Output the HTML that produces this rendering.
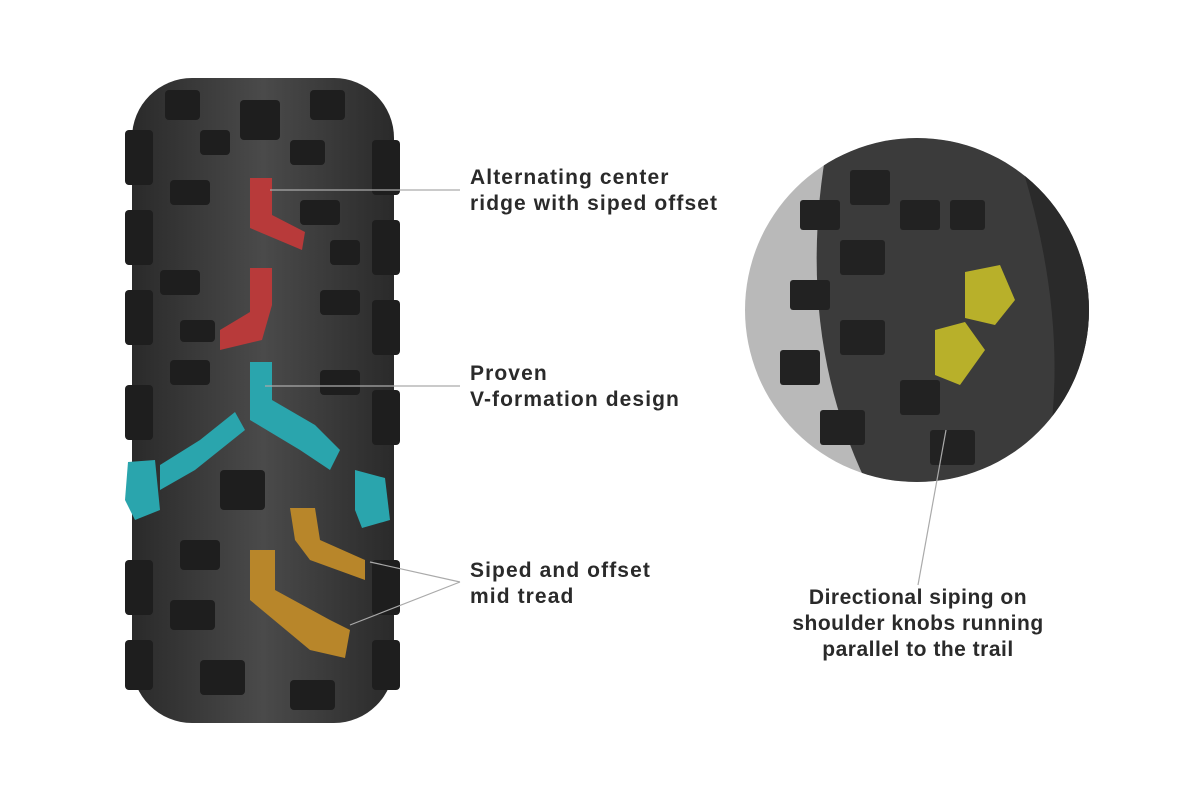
<!DOCTYPE html>
<html><head><meta charset="utf-8"><style>
html,body{margin:0;padding:0;background:#fff;}
body{width:1200px;height:800px;position:relative;overflow:hidden;font-family:"Liberation Sans",sans-serif;}
.t{position:absolute;font-size:21px;font-weight:bold;color:#2a2a2a;line-height:26px;letter-spacing:1.1px;}
</style></head><body>
<svg width="1200" height="800" style="position:absolute;left:0;top:0">
<defs>
<linearGradient id="tg" x1="0" x2="1">
<stop offset="0" stop-color="#2a2a2a"/><stop offset="0.5" stop-color="#4a4a4a"/><stop offset="1" stop-color="#2a2a2a"/>
</linearGradient>
<clipPath id="cc"><circle cx="917" cy="310" r="172"/></clipPath>
</defs>
<rect x="132" y="78" width="262" height="645" rx="60" fill="url(#tg)"/>
<g fill="#1e1e1e">
<rect x="125" y="130" width="28" height="55" rx="4"/><rect x="125" y="210" width="28" height="55" rx="4"/>
<rect x="125" y="290" width="28" height="55" rx="4"/><rect x="125" y="385" width="28" height="55" rx="4"/>
<rect x="125" y="560" width="28" height="55" rx="4"/><rect x="125" y="640" width="28" height="50" rx="4"/>
<rect x="372" y="140" width="28" height="55" rx="4"/><rect x="372" y="220" width="28" height="55" rx="4"/>
<rect x="372" y="300" width="28" height="55" rx="4"/><rect x="372" y="390" width="28" height="55" rx="4"/>
<rect x="372" y="560" width="28" height="55" rx="4"/><rect x="372" y="640" width="28" height="50" rx="4"/>
<rect x="165" y="90" width="35" height="30" rx="4"/><rect x="310" y="90" width="35" height="30" rx="4"/>
<rect x="170" y="180" width="40" height="25" rx="4"/><rect x="300" y="200" width="40" height="25" rx="4"/>
<rect x="160" y="270" width="40" height="25" rx="4"/><rect x="320" y="290" width="40" height="25" rx="4"/>
<rect x="170" y="360" width="40" height="25" rx="4"/><rect x="320" y="370" width="40" height="25" rx="4"/>
<rect x="220" y="470" width="45" height="40" rx="4"/><rect x="180" y="540" width="40" height="30" rx="4"/>
<rect x="170" y="600" width="45" height="30" rx="4"/><rect x="200" y="660" width="45" height="35" rx="4"/>
<rect x="290" y="680" width="45" height="30" rx="4"/><rect x="240" y="100" width="40" height="40" rx="4"/>
<rect x="200" y="130" width="30" height="25" rx="4"/><rect x="290" y="140" width="35" height="25" rx="4"/>
<rect x="330" y="240" width="30" height="25" rx="4"/><rect x="180" y="320" width="35" height="22" rx="4"/>
</g>
<g fill="#b83a3a">
<path d="M250 178 L272 178 L272 215 L305 232 L302 250 L250 228 Z"/>
<path d="M250 268 L272 268 L272 305 L262 340 L220 350 L220 330 L250 312 Z"/>
</g>
<g fill="#2aa5ad">
<path d="M250 362 L272 362 L272 400 L315 425 L340 450 L330 470 L300 450 L250 420 Z"/>
<path d="M235 412 L245 430 L220 450 L195 470 L160 490 L160 465 L200 440 Z"/>
<path d="M128 462 L155 460 L160 510 L135 520 L125 500 Z"/>
<path d="M355 470 L385 478 L390 520 L362 528 L355 510 Z"/>
</g>
<g fill="#b8862a">
<path d="M290 508 L315 508 L320 540 L365 560 L365 580 L310 560 L295 540 Z"/>
<path d="M250 550 L275 550 L275 590 L330 620 L350 630 L345 658 L310 650 L250 600 Z"/>
</g>
<g clip-path="url(#cc)">
<rect x="740" y="130" width="360" height="360" fill="#b9b9b9"/>
<path d="M830 130 L1100 130 L1100 490 L870 490 Q790 330 830 130 Z" fill="#3b3b3b"/>
<path d="M1010 130 L1100 130 L1100 490 L1040 490 Q1080 330 1010 130Z" fill="#2a2a2a"/>
<g fill="#222">
<rect x="800" y="200" width="40" height="30" rx="3"/><rect x="850" y="170" width="40" height="35" rx="3"/>
<rect x="790" y="280" width="40" height="30" rx="3"/><rect x="840" y="240" width="45" height="35" rx="3"/>
<rect x="780" y="350" width="40" height="35" rx="3"/><rect x="840" y="320" width="45" height="35" rx="3"/>
<rect x="820" y="410" width="45" height="35" rx="3"/><rect x="900" y="200" width="40" height="30" rx="3"/>
<rect x="900" y="380" width="40" height="35" rx="3"/><rect x="950" y="200" width="35" height="30" rx="3"/>
<rect x="930" y="430" width="45" height="35" rx="3"/>
</g>
<g fill="#b8b02a">
<path d="M965 272 L1000 265 L1015 300 L995 325 L965 318 Z"/>
<path d="M935 330 L965 322 L985 350 L960 385 L935 375 Z"/>
</g>
</g>
<g stroke="#aaa" stroke-width="1.2" fill="none">
<line x1="270" y1="190" x2="460" y2="190"/>
<line x1="265" y1="386" x2="460" y2="386"/>
<line x1="460" y1="582" x2="370" y2="562"/>
<line x1="460" y1="582" x2="350" y2="625"/>
<line x1="946" y1="430" x2="918" y2="585"/>
</g>
</svg>
<div class="t" style="left:470px;top:165px">Alternating center<br>ridge with siped offset</div>
<div class="t" style="left:470px;top:361px">Proven<br>V-formation design</div>
<div class="t" style="left:470px;top:558px">Siped and offset<br>mid tread</div>
<div class="t" style="left:738px;top:585px;width:360px;text-align:center;letter-spacing:0.5px">Directional siping on<br>shoulder knobs running<br>parallel to the trail</div>
</body></html>
